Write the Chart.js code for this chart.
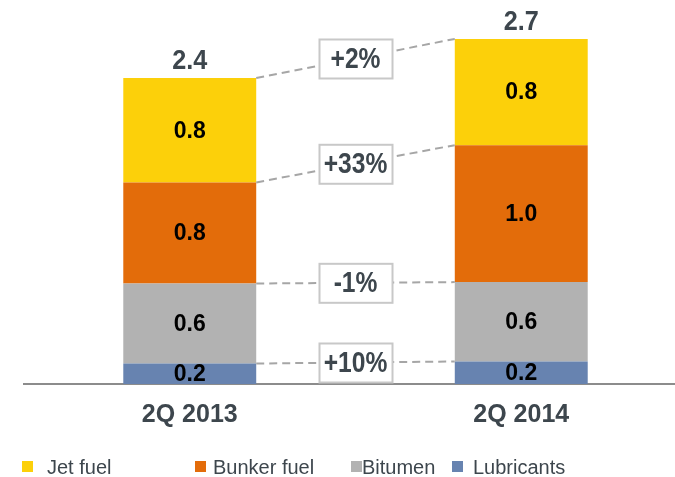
<!DOCTYPE html>
<html>
<head>
<meta charset="utf-8">
<script src="https://cdn.jsdelivr.net/npm/chart.js@4.4.1/dist/chart.umd.min.js"></script>
<style>
  html, body { margin: 0; padding: 0; background: #fff; overflow: hidden; width: 675px; height: 477px; }
  #wrap { width: 690px; height: 477px; }
</style>
</head>
<body>
<div id="wrap"><canvas id="chart" width="690" height="477"></canvas></div>
<script>
// Données (en milliards)
const categories = ['2Q 2013', '2Q 2014'];
const lubricants = [0.16, 0.176];
const bitumen = [0.625, 0.62];
const bunkerFuel = [0.79, 1.07];
const jetFuel = [0.815, 0.83];
const segmentLabels = [['0.2', '0.2'], ['0.6', '0.6'], ['0.8', '1.0'], ['0.8', '0.8']];
const totalLabels = ['2.4', '2.7'];
const changeLabels = ['+10%', '-1%', '+33%', '+2%'];

const FONT = '"Liberation Sans", Arial, sans-serif';
const DARK = '#3d464d';

// Étiquettes, lignes pointillées, encadrés de variation et légende
const annotate = {
  id: 'annotate',
  afterDatasetsDraw(chart) {
    const ctx = chart.ctx;
    const metas = chart.data.datasets.map((d, i) => chart.getDatasetMeta(i));

    // lignes pointillées + encadrés
    metas.forEach((meta, i) => {
      const a = meta.data[0], b = meta.data[1];
      const x1 = a.x + a.width / 2, y1 = a.y;
      const x2 = b.x - b.width / 2, y2 = b.y;
      ctx.save();
      ctx.strokeStyle = '#a6a6a6';
      ctx.lineWidth = 2;
      ctx.setLineDash([8, 5]);
      ctx.beginPath();
      ctx.moveTo(x1, y1);
      ctx.lineTo(x2, y2);
      ctx.stroke();
      ctx.setLineDash([]);
      const mx = (x1 + x2) / 2, my = (y1 + y2) / 2;
      ctx.fillStyle = '#fff';
      ctx.fillRect(mx - 36, my - 19, 73, 39);
      ctx.strokeStyle = '#c8c8c8';
      ctx.strokeRect(mx - 36, my - 19, 73, 39);
      ctx.translate(mx, my + 1);
      ctx.scale(0.82, 1);
      ctx.fillStyle = DARK;
      ctx.font = 'bold 30px ' + FONT;
      ctx.textAlign = 'center';
      ctx.textBaseline = 'middle';
      ctx.fillText(changeLabels[i], 0, 0);
      ctx.restore();
    });

    // valeurs dans les segments
    ctx.save();
    ctx.font = 'bold 23px ' + FONT;
    ctx.fillStyle = '#000';
    ctx.textAlign = 'center';
    ctx.textBaseline = 'middle';
    metas.forEach((meta, i) => {
      meta.data.forEach((bar, j) => {
        ctx.fillText(segmentLabels[i][j], bar.x, (bar.y + bar.base) / 2 + 1);
      });
    });
    ctx.restore();

    // totaux
    const top = metas[metas.length - 1];
    top.data.forEach((bar, j) => {
      ctx.save();
      ctx.translate(bar.x, bar.y - 17);
      ctx.scale(0.9, 1);
      ctx.font = 'bold 28px ' + FONT;
      ctx.fillStyle = DARK;
      ctx.textAlign = 'center';
      ctx.textBaseline = 'middle';
      ctx.fillText(totalLabels[j], 0, 0);
      ctx.restore();
    });

    // légende
    const pos = [[22, 47], [195, 213], [351, 362], [452, 473]];
    const order = chart.data.datasets.slice().reverse();
    ctx.save();
    ctx.font = '20px ' + FONT;
    ctx.textBaseline = 'middle';
    order.forEach((ds, k) => {
      ctx.fillStyle = ds.backgroundColor;
      ctx.fillRect(pos[k][0], 461, 11, 11);
      ctx.fillStyle = DARK;
      ctx.fillText(ds.label, pos[k][1], 468);
    });
    ctx.restore();
  }
};

new Chart(document.getElementById('chart'), {
  type: 'bar',
  data: {
    labels: categories,
    datasets: [
      { label: 'Lubricants', data: lubricants, backgroundColor: '#6783b0' },
      { label: 'Bitumen', data: bitumen, backgroundColor: '#b2b2b2' },
      { label: 'Bunker fuel', data: bunkerFuel, backgroundColor: '#e36c0a' },
      { label: 'Jet fuel', data: jetFuel, backgroundColor: '#fcd00a' }
    ]
  },
  options: {
    responsive: false,
    animation: false,
    layout: { padding: { left: 24, right: 3, top: 0, bottom: 0 } },
    datasets: { bar: { barPercentage: 0.401, categoryPercentage: 1, borderWidth: 0 } },
    plugins: { legend: { display: false }, tooltip: { enabled: false } },
    scales: {
      x: {
        stacked: true,
        grid: { display: false, drawTicks: false },
        border: { color: '#8c8c8c', width: 2 },
        ticks: { color: DARK, padding: 16, font: { family: FONT, size: 25, weight: 'bold' } },
        afterFit(axis) { axis.height = 93; }
      },
      y: { stacked: true, display: false, min: 0, max: 3 }
    }
  },
  plugins: [annotate]
});
</script>
</body>
</html>
